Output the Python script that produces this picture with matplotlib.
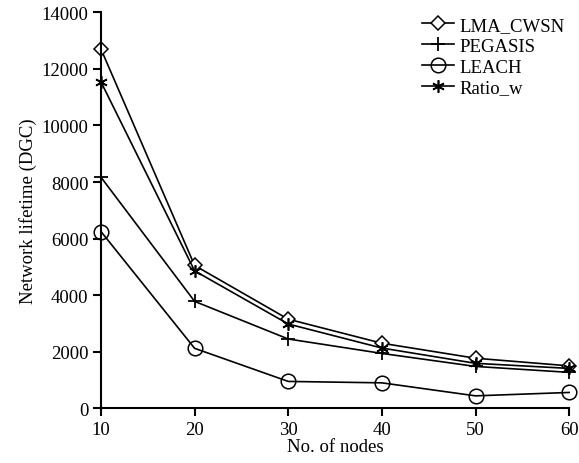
import matplotlib
matplotlib.use("Agg")
import matplotlib.pyplot as plt

plt.rcParams['font.family'] = ['Liberation Serif', 'DejaVu Serif']

nodes = [10, 20, 30, 40, 50, 60]
lma_cwsn = [12700, 5050, 3150, 2300, 1770, 1500]
pegasis = [8170, 3780, 2450, 1940, 1480, 1270]
leach = [6250, 2120, 950, 900, 440, 560]
ratio_w = [11540, 4860, 2980, 2130, 1590, 1410]

FS = 13.5

fig = plt.figure(figsize=(5.79, 4.64), dpi=100)
ax = fig.add_axes([0.1744, 0.1179, 0.8086, 0.8534])

ax.plot(nodes, lma_cwsn, color='black', lw=1.2, marker='D', ms=7.5, mfc='white', mec='black', mew=1.1, label='LMA_CWSN')
ax.plot(nodes, pegasis, color='black', lw=1.2, marker='+', ms=10, mew=1.3, label='PEGASIS')
ax.plot(nodes, leach, color='black', lw=1.2, marker='o', ms=10.5, mfc='none', mec='black', mew=1.1, label='LEACH')
ax.plot(nodes, ratio_w, color='black', lw=1.2, marker=(6, 2, 0), ms=9, mew=1.2, label='Ratio_w')

ax.set_xlim(10, 60)
ax.set_ylim(0, 14000)
ax.set_xticks(nodes)
ax.set_yticks(range(0, 14001, 2000))
for s in ['top', 'right']:
    ax.spines[s].set_visible(False)
for s in ['left', 'bottom']:
    ax.spines[s].set_linewidth(1.5)
    ax.spines[s].set_clip_on(False)
ax.tick_params(direction='out', length=6, width=1.5, labelsize=FS, pad=3)
ax.set_xlabel('No. of nodes', fontsize=FS, labelpad=0)
ax.set_ylabel('Network lifetime (DGC)', fontsize=FS, labelpad=3)
for line in ax.lines:
    line.set_clip_on(False)

ax.legend(loc='upper right', frameon=False, fontsize=FS, handlelength=1.7,
          handletextpad=0.3, labelspacing=0.2, borderaxespad=0.0,
          bbox_to_anchor=(1.006, 1.008))

fig.savefig('out.png', dpi=100)
